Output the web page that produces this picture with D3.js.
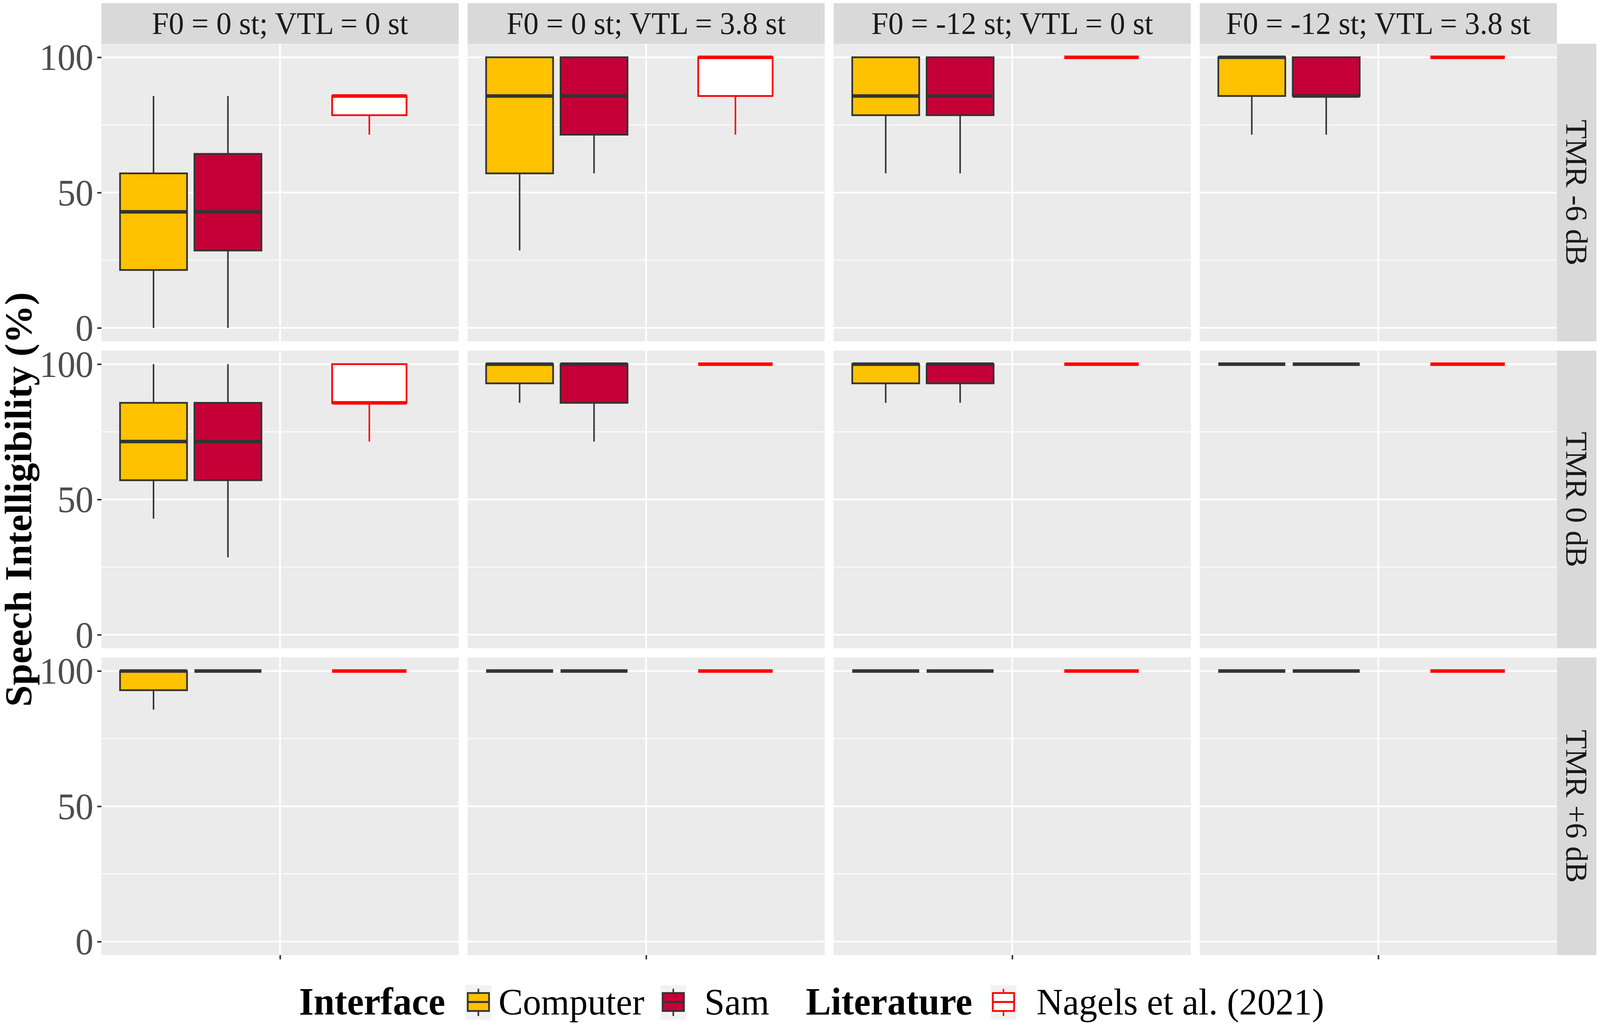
<!DOCTYPE html>
<html>
<head>
<meta charset="utf-8">
<script src="https://cdn.jsdelivr.net/npm/d3@7"></script>
<style>
  html, body { margin: 0; padding: 0; background: #ffffff; overflow: hidden; width: 100%; height: 100%; }
  svg { display: block; }
  text { font-family: "Liberation Serif", "Times New Roman", serif; }
</style>
</head>
<body>
<svg id="chart" viewBox="0 0 4211 2629" preserveAspectRatio="none" style="width:100vw;height:100vh;"></svg>
<script>
// ---------------- DATA ----------------
const columnLabels = ["F0 = 0 st; VTL = 0 st", "F0 = 0 st; VTL = 3.8 st", "F0 = -12 st; VTL = 0 st", "F0 = -12 st; VTL = 3.8 st"];
const rowLabels = ["TMR -6 dB", "TMR 0 dB", "TMR +6 dB"];
const groupNames = ["Computer", "Sam", "Nagels et al. (2021)"];
const yTickValues = [0, 50, 100];
const yMinorValues = [25, 75];
const yTitle = "Speech Intelligibility (%)";

// box stats [min, q1, median, q3, max], indexed [row][column]
const computerStats = [
  [[0, 21.4, 42.9, 57.1, 85.7], [28.6, 57.1, 85.7, 100, 100], [57.1, 78.6, 85.7, 100, 100], [71.4, 85.7, 100, 100, 100]],
  [[42.9, 57.1, 71.4, 85.7, 100], [85.7, 92.9, 100, 100, 100], [85.7, 92.9, 100, 100, 100], [100, 100, 100, 100, 100]],
  [[85.7, 92.9, 100, 100, 100], [100, 100, 100, 100, 100], [100, 100, 100, 100, 100], [100, 100, 100, 100, 100]]
];
const samStats = [
  [[0, 28.6, 42.9, 64.3, 85.7], [57.1, 71.4, 85.7, 100, 100], [57.1, 78.6, 85.7, 100, 100], [71.4, 85.7, 85.7, 100, 100]],
  [[28.6, 57.1, 71.4, 85.7, 100], [71.4, 85.7, 100, 100, 100], [85.7, 92.9, 100, 100, 100], [100, 100, 100, 100, 100]],
  [[100, 100, 100, 100, 100], [100, 100, 100, 100, 100], [100, 100, 100, 100, 100], [100, 100, 100, 100, 100]]
];
const nagelsStats = [
  [[71.4, 78.6, 85.7, 85.7, 85.7], [71.4, 85.7, 100, 100, 100], [100, 100, 100, 100, 100], [100, 100, 100, 100, 100]],
  [[71.4, 85.7, 85.7, 100, 100], [100, 100, 100, 100, 100], [100, 100, 100, 100, 100], [100, 100, 100, 100, 100]],
  [[100, 100, 100, 100, 100], [100, 100, 100, 100, 100], [100, 100, 100, 100, 100], [100, 100, 100, 100, 100]]
];

// ---------------- STYLE / LAYOUT ----------------
const W = 4211, H = 2629;
const plotLeft = 267, panelW = 940, colGap = 23.5;
const plotTop = 112, panelH = 762, rowGap = 23.5;
const stripTopY = 8, stripRightW = 104;
const fills = { "Computer": "#FFC200", "Sam": "#C40037", "Nagels et al. (2021)": "#FFFFFF" };
const strokes = { "Computer": "#333333", "Sam": "#333333", "Nagels et al. (2021)": "#FF0000" };
// dodge positions within the single discrete x slot (data units of continuous scale)
const groupX = { "Computer": 0.575, "Sam": 0.825, "Nagels et al. (2021)": 1.3 };
const groupWidth = { "Computer": 0.225, "Sam": 0.225, "Nagels et al. (2021)": 0.25 };

const svg = d3.select("#chart");
svg.append("rect").attr("width", W).attr("height", H).attr("fill", "#ffffff");

const colBand = d3.scaleBand().domain(d3.range(columnLabels.length))
  .range([plotLeft, plotLeft + columnLabels.length * panelW + (columnLabels.length - 1) * colGap])
  .paddingInner(colGap / (panelW + colGap)).paddingOuter(0);
const rowBand = d3.scaleBand().domain(d3.range(rowLabels.length))
  .range([plotTop, plotTop + rowLabels.length * panelH + (rowLabels.length - 1) * rowGap])
  .paddingInner(rowGap / (panelH + rowGap)).paddingOuter(0);

const x = d3.scaleLinear().domain([0.4, 1.6]).range([0, colBand.bandwidth()]);
const y = d3.scaleLinear().domain([-5, 105]).range([rowBand.bandwidth(), 0]);

const statsByGroup = { "Computer": computerStats, "Sam": samStats, "Nagels et al. (2021)": nagelsStats };

const panelsRight = colBand(columnLabels.length - 1) + colBand.bandwidth();

// top strips
columnLabels.forEach((lab, c) => {
  const g = svg.append("g").attr("transform", `translate(${colBand(c)},${stripTopY})`);
  g.append("rect").attr("width", colBand.bandwidth()).attr("height", plotTop - stripTopY).attr("fill", "#D9D9D9");
  g.append("text").attr("x", colBand.bandwidth() / 2).attr("y", (plotTop - stripTopY) / 2 + 27)
    .attr("text-anchor", "middle").attr("font-size", 80).attr("fill", "#1A1A1A").text(lab);
});

// right strips
rowLabels.forEach((lab, r) => {
  const g = svg.append("g").attr("transform", `translate(${panelsRight},${rowBand(r)})`);
  g.append("rect").attr("width", stripRightW).attr("height", rowBand.bandwidth()).attr("fill", "#D9D9D9");
  g.append("text").attr("transform", `translate(${stripRightW / 2 - 27},${rowBand.bandwidth() / 2}) rotate(90)`)
    .attr("text-anchor", "middle").attr("font-size", 80).attr("fill", "#1A1A1A").text(lab);
});

// panels
rowLabels.forEach((rl, r) => {
  columnLabels.forEach((cl, c) => {
    const g = svg.append("g").attr("transform", `translate(${colBand(c)},${rowBand(r)})`);
    g.append("rect").attr("width", colBand.bandwidth()).attr("height", rowBand.bandwidth()).attr("fill", "#EBEBEB");
    // minor grid
    g.selectAll(".ymin").data(yMinorValues).enter().append("line")
      .attr("x1", 0).attr("x2", colBand.bandwidth()).attr("y1", d => y(d)).attr("y2", d => y(d))
      .attr("stroke", "#ffffff").attr("stroke-width", 2.2);
    // major grid
    g.selectAll(".ymaj").data(yTickValues).enter().append("line")
      .attr("x1", 0).attr("x2", colBand.bandwidth()).attr("y1", d => y(d)).attr("y2", d => y(d))
      .attr("stroke", "#ffffff").attr("stroke-width", 4.5);
    g.append("line").attr("x1", x(1)).attr("x2", x(1)).attr("y1", 0).attr("y2", rowBand.bandwidth())
      .attr("stroke", "#ffffff").attr("stroke-width", 4.5);

    // boxplots
    groupNames.forEach(gn => {
      const [mn, q1, med, q3, mx] = statsByGroup[gn][r][c];
      const cx = x(groupX[gn]);
      const hw = (x(groupX[gn] + groupWidth[gn] / 2) - x(groupX[gn] - groupWidth[gn] / 2)) / 2;
      const st = strokes[gn];
      const b = g.append("g");
      if (mx > q3) b.append("line").attr("x1", cx).attr("x2", cx).attr("y1", y(q3)).attr("y2", y(mx))
        .attr("stroke", st).attr("stroke-width", 4);
      if (mn < q1) b.append("line").attr("x1", cx).attr("x2", cx).attr("y1", y(q1)).attr("y2", y(mn))
        .attr("stroke", st).attr("stroke-width", 4);
      b.append("rect").attr("x", cx - hw).attr("width", 2 * hw)
        .attr("y", y(q3)).attr("height", Math.max(0, y(q1) - y(q3)))
        .attr("fill", fills[gn]).attr("stroke", st).attr("stroke-width", 4.5);
      b.append("line").attr("x1", cx - hw).attr("x2", cx + hw).attr("y1", y(med)).attr("y2", y(med))
        .attr("stroke", st).attr("stroke-width", 9);
    });

    // y axis on the first column
    if (c === 0) {
      const ax = g.append("g").call(d3.axisLeft(y).tickValues(yTickValues).tickSize(11).tickPadding(10).tickFormat(d3.format("d")));
      ax.select(".domain").remove();
      ax.selectAll(".tick line").attr("stroke", "#333333").attr("stroke-width", 4);
      ax.selectAll(".tick text").attr("font-size", 95).attr("fill", "#4D4D4D")
        .attr("font-family", "Liberation Serif").attr("dy", "0.34em");
    }
    // x tick on the bottom row
    if (r === rowLabels.length - 1) {
      const ax = g.append("g").attr("transform", `translate(0,${rowBand.bandwidth()})`)
        .call(d3.axisBottom(x).tickValues([1]).tickSize(11).tickFormat(() => ""));
      ax.select(".domain").remove();
      ax.selectAll(".tick line").attr("stroke", "#333333").attr("stroke-width", 4);
    }
  });
});

// y axis title
const plotMidY = (rowBand(0) + rowBand(rowLabels.length - 1) + rowBand.bandwidth()) / 2;
svg.append("text").attr("transform", `translate(82,${plotMidY}) rotate(-90)`)
  .attr("text-anchor", "middle").attr("font-size", 99).attr("font-weight", "bold").attr("fill", "#000")
  .text(yTitle);

// legend
const legBase = 2597;
const legend = svg.append("g");
function legendTitle(txt, xx) {
  legend.append("text").attr("x", xx).attr("y", legBase).attr("font-size", 99).attr("font-weight", "bold").attr("fill", "#000").text(txt);
}
function legendLabel(txt, xx) {
  legend.append("text").attr("x", xx).attr("y", legBase).attr("font-size", 96).attr("fill", "#000").text(txt);
}
function legendKey(gn, xx) {
  const k = legend.append("g").attr("transform", `translate(${xx},2522)`);
  const st = strokes[gn];
  k.append("rect").attr("width", 68).attr("height", 88).attr("fill", "#F2F2F2");
  k.append("line").attr("x1", 34).attr("x2", 34).attr("y1", 9).attr("y2", 79).attr("stroke", st).attr("stroke-width", 4);
  k.append("rect").attr("x", 6).attr("y", 20).attr("width", 56).attr("height", 46)
    .attr("fill", fills[gn]).attr("stroke", st).attr("stroke-width", 4.5);
  k.append("line").attr("x1", 6).attr("x2", 62).attr("y1", 43).attr("y2", 43).attr("stroke", st).attr("stroke-width", 5);
}
legendTitle("Interface", 787);
legendKey("Computer", 1225);
legendLabel("Computer", 1312);
legendKey("Sam", 1738);
legendLabel("Sam", 1854);
legendTitle("Literature", 2121);
legendKey("Nagels et al. (2021)", 2607);
legendLabel("Nagels et al. (2021)", 2728);
</script>
</body>
</html>
